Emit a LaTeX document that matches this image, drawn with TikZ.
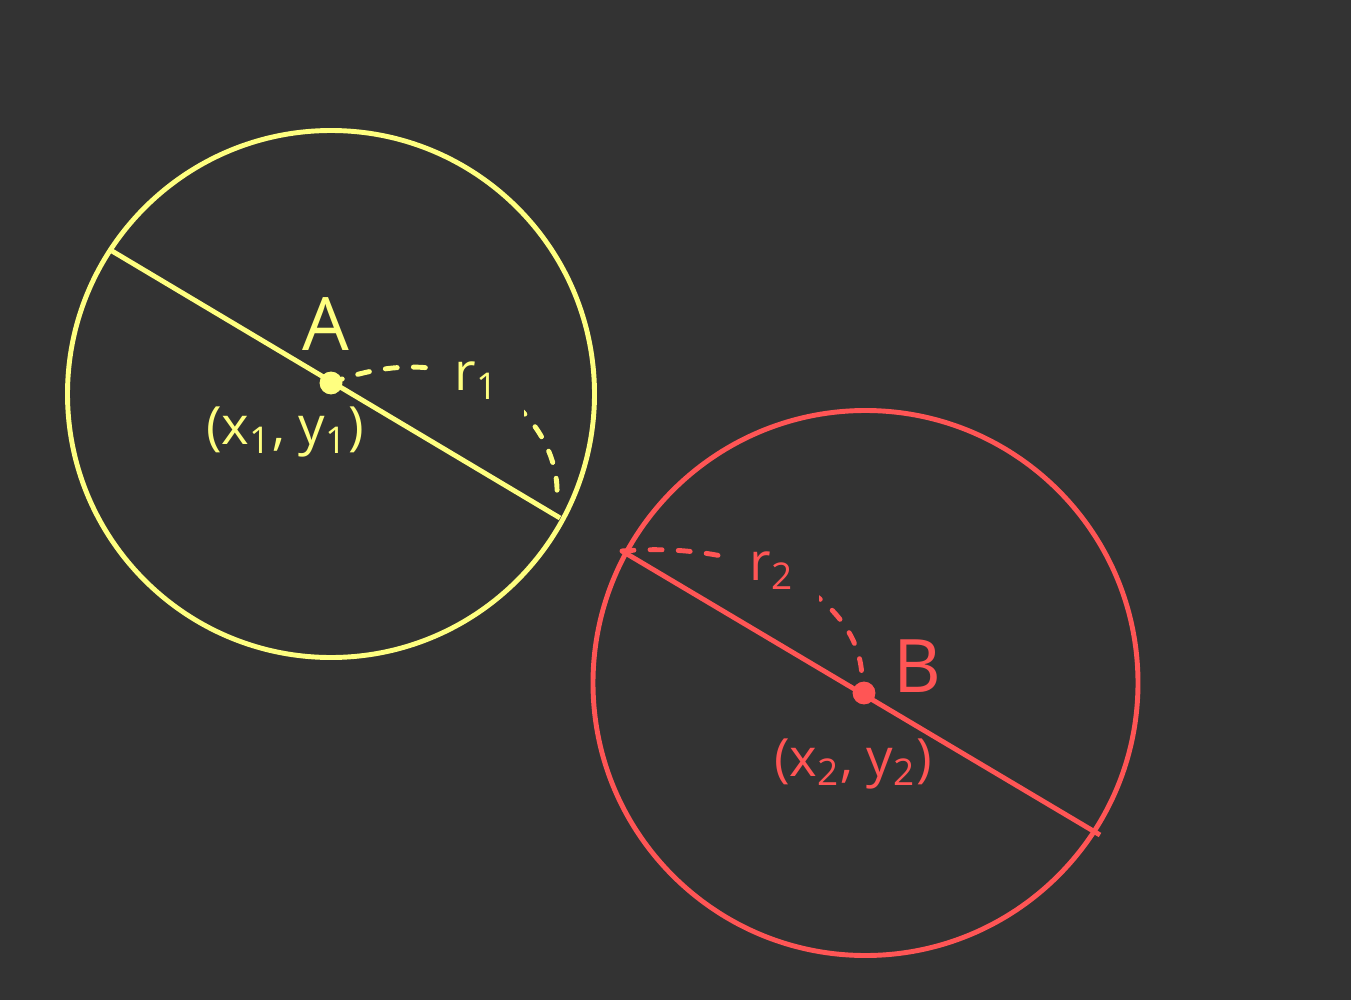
\documentclass[tikz,border=0pt]{standalone}
\usepackage{fontspec}
\setmainfont{Open Sans}
\usepackage{tikz}

\definecolor{bgGray}{HTML}{333333}
\definecolor{chalkYellow}{HTML}{FFFF80}
\definecolor{chalkRed}{HTML}{FF5555}

\begin{document}
\begin{tikzpicture}[x=0.01cm,y=-0.01cm,
  ring/.style={line width=1.4pt},
  radiusline/.style={line width=1.4pt, dash pattern=on 3.4pt off 4.6pt, line cap=round},
  centerdot/.style={circle, fill, inner sep=0pt, minimum size=6.5pt},
  lbl/.style={font=\fontsize{15}{17}\selectfont, inner sep=1pt},
  biglbl/.style={font=\fontsize{21}{23}\selectfont, inner sep=1pt},
  gaplbl/.style={lbl, fill=bgGray, inner sep=7pt},
  every node/.style={align=center}]

% Background and page size
\fill[bgGray] (0,0) rectangle (1351,1000);
\useasboundingbox (0,0) rectangle (1351,1000);

% Circle A
\coordinate (centerA) at (331,394);
\coordinate (dotPosA) at (331,383);
\coordinate (endA1) at (112,251);
\coordinate (endA2) at (560,518);
\draw[radiusline, chalkYellow] (dotPosA) .. controls (470,330) and (560,420) .. (557,495)
  node[pos=0.42, gaplbl, text=chalkYellow] (radA) {r\textsubscript{1}};
\draw[ring, chalkYellow] (centerA) circle (263.5);
\draw[ring, chalkYellow] (endA1) -- (endA2);
\node[centerdot, chalkYellow] (dotA) at (dotPosA) {};
\node[biglbl, text=chalkYellow] (labelA) at (326,324) {A};
\node[lbl, text=chalkYellow] (coordA) at (285,432) {(x\textsubscript{1}, y\textsubscript{1})};

% Circle B
\coordinate (centerB) at (865.5,683);
\coordinate (dotPosB) at (864,693);
\coordinate (endB1) at (622,551);
\coordinate (endB2) at (1100,835);
\draw[radiusline, chalkRed] (endB1) .. controls (760,540) and (862,600) .. (862,680)
  node[pos=0.42, gaplbl, text=chalkRed] (radB) {r\textsubscript{2}};
\draw[ring, chalkRed] (centerB) circle (272.5);
\draw[ring, chalkRed] (endB1) -- (endB2);
\node[centerdot, chalkRed] (dotB) at (dotPosB) {};
\node[biglbl, text=chalkRed] (labelB) at (917,666) {B};
\node[lbl, text=chalkRed] (coordB) at (853,764) {(x\textsubscript{2}, y\textsubscript{2})};

\end{tikzpicture}
\end{document}
